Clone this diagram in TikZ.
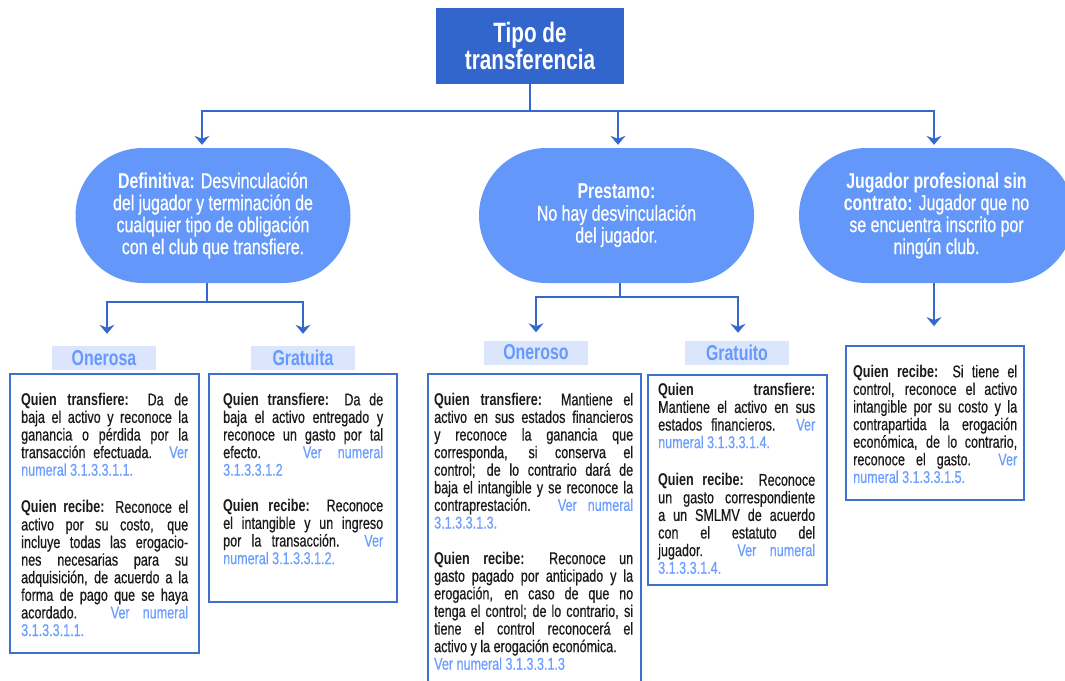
\documentclass[tikz,border=0pt]{standalone}
\usepackage{fontspec}
\setmainfont[FakeStretch=0.74,UprightFeatures={FakeBold=0.6}]{Liberation Sans}
\usetikzlibrary{arrows.meta,calc}
\definecolor{titlec}{RGB}{51,102,204}
\definecolor{pillc}{RGB}{99,151,250}
\definecolor{connc}{RGB}{52,104,204}
\definecolor{boxc}{RGB}{62,112,210}
\definecolor{labfill}{RGB}{219,230,252}
\definecolor{labtext}{RGB}{102,153,255}
\definecolor{linkc}{RGB}{108,158,255}
\definecolor{bodyc}{RGB}{26,26,26}
\newcommand\lk[1]{\textcolor{linkc}{#1}}
\begin{document}
\begin{tikzpicture}[x=1pt,y=-1pt,
  titlebox/.style={fill=titlec,text=white,font=\fontsize{28}{27}\selectfont\bfseries,align=center,minimum width=188pt,minimum height=76pt,inner sep=0pt},
  pill/.style={fill=pillc,rounded corners=67.5pt,minimum width=275pt,minimum height=135pt,text=white,align=center,font=\fontsize{21.5}{22}\selectfont,inner sep=0pt},
  lab/.style={fill=labfill,text=labtext,font=\fontsize{21.5}{22}\selectfont\bfseries,minimum width=104pt,minimum height=24pt,inner sep=0pt},
  box/.style={draw=boxc,line width=1.8pt,inner sep=0pt},
  txt/.style={anchor=north west,inner sep=0pt,text=bodyc,align=justify,font=\fontsize{17}{17.6}\selectfont},
  conn/.style={draw=connc,line width=1.8pt},
  arr/.style={conn,-{Stealth[length=9pt,width=15pt,inset=3pt]}}]
\useasboundingbox (0,0) rectangle (1065,680);

\node[titlebox] (title) at (530,46) {Tipo de\\transferencia};

\node[pill] (def) at (213,215.5) {\textbf{Definitiva:} Desvinculación\\del jugador y terminación de\\cualquier tipo de obligación\\con el club que transfiere.};
\node[pill] (pre) at (616.5,215.5) {\textbf{Prestamo:}\\No hay desvinculación\\del jugador.};
\node[pill] (jug) at (936.5,215.5) {\textbf{Jugador profesional sin}\\\textbf{contrato:} Jugador que no\\se encuentra inscrito por\\ningún club.};

\node[lab] (ona) at (104,358) {Onerosa};
\node[lab] (gra) at (303,358) {Gratuita};
\node[lab] (one) at (536,352.5) {Oneroso};
\node[lab] (gro) at (737,353) {Gratuito};

\node[box,minimum width=189pt,minimum height=279pt] (b1) at (104.5,513.5) {};
\node[box,minimum width=188pt,minimum height=228pt] (b2) at (303,488) {};
\node[box,minimum width=213pt,minimum height=318pt] (b3) at (534.5,533) {};
\node[box,minimum width=179pt,minimum height=210pt] (b4) at (737.5,480) {};
\node[box,minimum width=178pt,minimum height=154pt] (b5) at (935,423) {};

\node[txt,text width=167pt] (t1) at (21,392.8) {\textbf{Quien transfiere:} Da de\linebreak baja el activo y reconoce la\linebreak ganancia o pérdida por la\linebreak transacción efectuada. \lk{Ver}\linebreak \lk{numeral 3.1.3.3.1.1.}\\[19.5pt]
\textbf{Quien recibe:} Reconoce el\linebreak activo por su costo, que\linebreak incluye todas las erogacio-\linebreak nes necesarias para su\linebreak adquisición, de acuerdo a la\linebreak forma de pago que se haya\linebreak acordado. \lk{Ver numeral}\linebreak \lk{3.1.3.3.1.1.}};

\node[txt,text width=160pt] (t2) at (223,392.8) {\textbf{Quien transfiere:} Da de\linebreak baja el activo entregado y\linebreak reconoce un gasto por tal\linebreak efecto. \lk{Ver numeral}\linebreak \lk{3.1.3.3.1.2}\\[18pt]
\textbf{Quien recibe:} Reconoce\linebreak el intangible y un ingreso\linebreak por la transacción. \lk{Ver}\linebreak \lk{numeral 3.1.3.3.1.2.}};

\node[txt,text width=199pt] (t3) at (434,392.8) {\textbf{Quien transfiere:} Mantiene el\linebreak activo en sus estados financieros\linebreak y reconoce la ganancia que\linebreak corresponda, si conserva el\linebreak control; de lo contrario dará de\linebreak baja el intangible y se reconoce la\linebreak contraprestación. \lk{Ver numeral}\linebreak \lk{3.1.3.3.1.3.}\\[18pt]
\textbf{Quien recibe:} Reconoce un\linebreak gasto pagado por anticipado y la\linebreak erogación, en caso de que no\linebreak tenga el control; de lo contrario, si\linebreak tiene el control reconocerá el\linebreak activo y la erogación económica.\\
\lk{Ver numeral 3.1.3.3.1.3}};

\node[txt,text width=157pt] (t4) at (658,382.8) {\textbf{Quien transfiere:}\linebreak Mantiene el activo en sus\linebreak estados financieros. \lk{Ver}\linebreak \lk{numeral 3.1.3.3.1.4.}\\[20pt]
\textbf{Quien recibe:} Reconoce\linebreak un gasto correspondiente\linebreak a un SMLMV de acuerdo\linebreak con el estatuto del\linebreak jugador. \lk{Ver numeral}\linebreak \lk{3.1.3.3.1.4.}};

\node[txt,text width=164pt] (t5) at (853,364.8) {\textbf{Quien recibe:} Si tiene el\linebreak control, reconoce el activo\linebreak intangible por su costo y la\linebreak contrapartida la erogación\linebreak económica, de lo contrario,\linebreak reconoce el gasto. \lk{Ver}\linebreak \lk{numeral 3.1.3.3.1.5.}};

\coordinate (bus) at (530,111);
\draw[conn] (title.south) -- (bus);
\draw[arr,shorten >=3pt] (bus) -| ([xshift=-11pt]def.north);
\draw[arr,shorten >=3pt] (bus) -| ([xshift=1.5pt]pre.north);
\draw[arr,shorten >=3pt] (bus) -| ([xshift=-2.5pt]jug.north);

\coordinate (dbus) at (207,302);
\draw[conn] ([xshift=-6pt]def.south) -- (dbus);
\draw[arr,shorten >=12pt] (dbus) -| ([xshift=3pt]ona.north);
\draw[arr,shorten >=12pt] (dbus) -| (gra.north);

\coordinate (pbus) at (620,297);
\draw[conn] ([xshift=3.5pt]pre.south) -- (pbus);
\draw[arr,shorten >=8pt] (pbus) -| (one.north);
\draw[arr,shorten >=8pt] (pbus) -| ([xshift=1pt]gro.north);

\draw[arr,shorten >=19pt] ([xshift=-2.5pt]jug.south) -- ([xshift=-1pt]b5.north);
\end{tikzpicture}
\end{document}
